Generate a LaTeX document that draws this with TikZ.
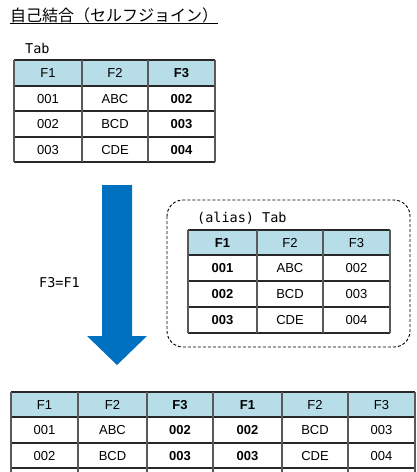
\documentclass[tikz,border=0pt]{standalone}
\usepackage{fontspec}
\setmainfont{Liberation Sans}
\newfontfamily\jpfont{Noto Sans CJK JP}
\newfontfamily\gothfont{DejaVu Sans Mono}
\definecolor{HeadClr}{RGB}{183,222,232}
\definecolor{ArrowClr}{RGB}{0,112,192}
\definecolor{LineClr}{RGB}{40,40,40}

\begin{document}
\begin{tikzpicture}[x=1pt,y=-1pt,
  cell/.style={font=\fontsize{13}{15}\selectfont,inner sep=0pt,text height=9.3pt,text depth=0pt},
  boldcell/.style={cell,font=\fontsize{13}{15}\selectfont\bfseries},
  hline/.style={line width=1.3pt,color=LineClr},
  vline/.style={line width=1.3pt,color=gray!70!black},
  label/.style={font=\gothfont\fontsize{13.5}{16}\selectfont,inner sep=0pt,anchor=base west}]

\useasboundingbox (0,0) rectangle (416,472);
\clip (0,0) rectangle (416,472);

% Title with its underline.
\node[font=\jpfont\fontsize{16}{18}\selectfont,inner sep=0pt,anchor=base west] (title) at (10,21) {自己結合（セルフジョイン）};
\draw[line width=1pt] ([yshift=-2.5pt]title.base west) -- ([yshift=-2.5pt]title.base east);

% The table Tab.
\node[label] (tabname) at (25,53) {Tab};
\fill[HeadClr] (14,60) rectangle (215,86);
\foreach \y in {60,86,111,137,162} \draw[hline] (14,\y) -- (215,\y);
\foreach \x in {14,82,148,215} \draw[vline] (\x,60) -- (\x,162);
\foreach \r/\y/\a/\b/\c in {0/73/F1/F2/F3,1/98.5/001/ABC/002,2/124/002/BCD/003,3/149.5/003/CDE/004}
{
  \node[cell] (tab-\r-1) at (48,\y) {\a};
  \node[cell] (tab-\r-2) at (115,\y) {\b};
  \node[boldcell] (tab-\r-3) at (181.5,\y) {\c};
}

% The join arrow and its condition.
\coordinate (arrtop) at (117,185);
\coordinate (arrtip) at (117,365);
\fill[ArrowClr] ([xshift=-15pt]arrtop) -- ([xshift=15pt]arrtop) -- ([xshift=15pt,yshift=29pt]arrtip)
  -- ([xshift=30pt,yshift=29pt]arrtip) -- (arrtip) -- ([xshift=-30pt,yshift=29pt]arrtip)
  -- ([xshift=-15pt,yshift=29pt]arrtip) -- cycle;
\node[label] (cond) at (39,287) {F3=F1};

% The alias of Tab in a dashed frame.
\draw[rounded corners=16pt,line width=0.9pt,dash pattern=on 3pt off 2pt] (167,200) rectangle (410,347);
\node[label] (aliasname) at (197,222) {(alias) Tab};
\fill[HeadClr] (188,230) rectangle (390,255);
\foreach \y in {230,255,281,307,333} \draw[hline] (188,\y) -- (390,\y);
\foreach \x in {188,257,323,390} \draw[vline] (\x,230) -- (\x,333);
\foreach \r/\y/\a/\b/\c in {0/242.5/F1/F2/F3,1/268/001/ABC/002,2/294/002/BCD/003,3/320/003/CDE/004}
{
  \node[boldcell] (alias-\r-1) at (222.5,\y) {\a};
  \node[cell] (alias-\r-2) at (290,\y) {\b};
  \node[cell] (alias-\r-3) at (356.5,\y) {\c};
}

% The joined result.
\fill[HeadClr] (11,392) rectangle (415,417);
\foreach \y in {392,417,443,468} \draw[hline] (11,\y) -- (415,\y);
\foreach \x in {11,78,147,213,282,348,415} \draw[vline] (\x,392) -- (\x,480);
\foreach \r/\y/\a/\b/\c/\d/\e/\f in {0/404.5/F1/F2/F3/F1/F2/F3,1/430/001/ABC/002/002/BCD/003,2/455.5/002/BCD/003/003/CDE/004}
{
  \node[cell] (res-\r-1) at (44.5,\y) {\a};
  \node[cell] (res-\r-2) at (112.5,\y) {\b};
  \node[boldcell] (res-\r-3) at (180,\y) {\c};
  \node[boldcell] (res-\r-4) at (247.5,\y) {\d};
  \node[cell] (res-\r-5) at (315,\y) {\e};
  \node[cell] (res-\r-6) at (381.5,\y) {\f};
}

\end{tikzpicture}
\end{document}
